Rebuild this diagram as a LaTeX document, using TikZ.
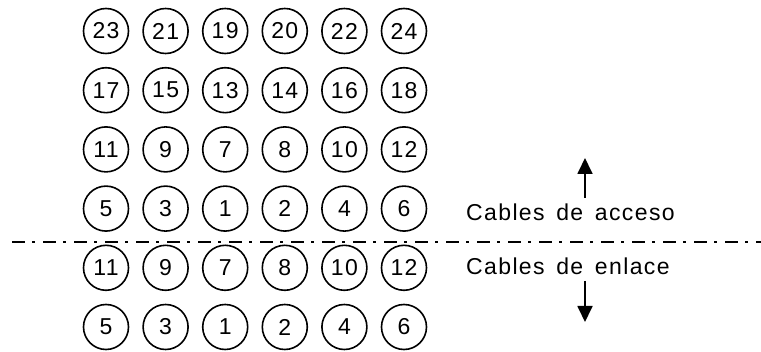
\documentclass[tikz,border=0pt]{standalone}
\usepackage{fontspec}
\setmainfont{Liberation Sans}
\newfontfamily\cablefont[LetterSpace=6,WordSpace=1.5]{Liberation Sans}
\usetikzlibrary{arrows.meta,positioning}
\tikzset{
  cable/.style={circle, draw, line width=1.6pt, minimum size=45pt, inner sep=0pt, font=\cablefont\fontsize{23}{27}\selectfont},
  sidelabel/.style={anchor=base west, inner sep=0pt, font=\cablefont\fontsize{23}{27}\selectfont},
  arrow/.style={-{Triangle[length=16pt,width=15pt]}, line width=1.8pt},
  divider/.style={line width=2pt, dash pattern=on 13pt off 7pt on 3pt off 8pt},
}
\begin{document}
\begin{tikzpicture}[x=1pt,y=-1pt]
\useasboundingbox (0,0) rectangle (761,352);
% cable positions, top row first
\foreach \nums [count=\r] in {{23,21,19,20,22,24},{17,15,13,14,16,18},{11,9,7,8,10,12},{5,3,1,2,4,6},{11,9,7,8,10,12},{5,3,1,2,4,6}}
  \foreach \n [count=\c] in \nums
    \node[cable] (c\r-\c) at ({106+59.6*(\c-1)},{31+59.2*(\r-1)}) {\n};

\coordinate (divl) at (12,242.5);
\coordinate (divr) at (761,242.5);
\draw[divider] (divl) -- (divr);

\node[sidelabel] (acceso) at (466,221) {Cables de acceso};
\node[sidelabel] (enlace) at (466,275) {Cables de enlace};

\coordinate (uptail) at (585,198);
\coordinate (uptip) at (585,158);
\coordinate (downtail) at (585,281);
\coordinate (downtip) at (585,322);
\draw[arrow] (uptail) -- (uptip);
\draw[arrow] (downtail) -- (downtip);
\end{tikzpicture}
\end{document}
